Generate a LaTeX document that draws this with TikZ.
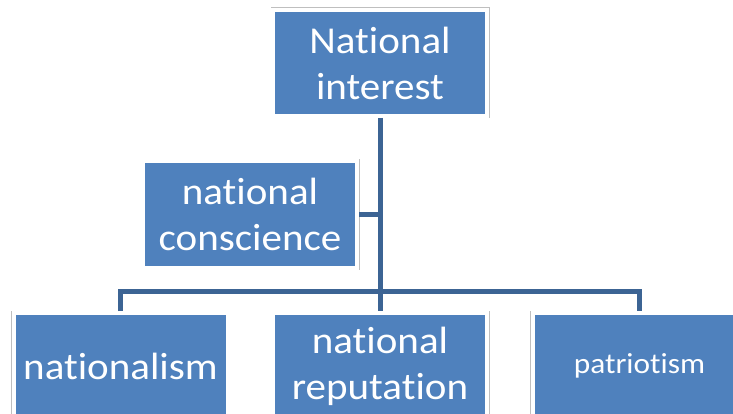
\documentclass[tikz,border=0pt]{standalone}
\usepackage{fontspec}
\setmainfont{Carlito}[FakeStretch=1.08, RawFeature={-liga;-clig;-dlig;-calt}]
\usepackage{tikz}
\usetikzlibrary{positioning}
\definecolor{boxblue}{HTML}{4F81BD}
\definecolor{linkblue}{HTML}{3C6494}

\begin{document}
\begin{tikzpicture}[
node distance=41.5pt,
box/.style={fill=boxblue, draw=white, line width=4pt,
  preaction={draw=black!25, line width=5pt},
  minimum width=214pt, minimum height=106pt, inner sep=0pt,
  align=center, text=white, font=\fontsize{38}{46}\selectfont},
link/.style={draw=linkblue, line width=5pt}
]
\useasboundingbox (0,0) rectangle (733pt,-414pt);

%-------------------------
% Nodes
%-------------------------

\node[box] (interest) at (380pt,-63pt) {National\\interest};

\node[box] (conscience) at (250pt,-214.5pt) {national\\conscience};

\node[box] (reputation) [below=193pt of interest] {national\\reputation};
\node[box] (nationalism) [left=of reputation] {nationalism};
\node[box, font=\fontsize{29}{35}\selectfont] (patriotism) [right=of reputation] {patriotism};

\coordinate (split) at ([yshift=20pt]reputation.north);

%-------------------------
% Lines
%-------------------------

\draw[link] (interest) -- (reputation);
\draw[link] (conscience) -- (conscience -| interest);
\draw[link] (nationalism) |- (split) -| (patriotism);

\end{tikzpicture}
\end{document}
